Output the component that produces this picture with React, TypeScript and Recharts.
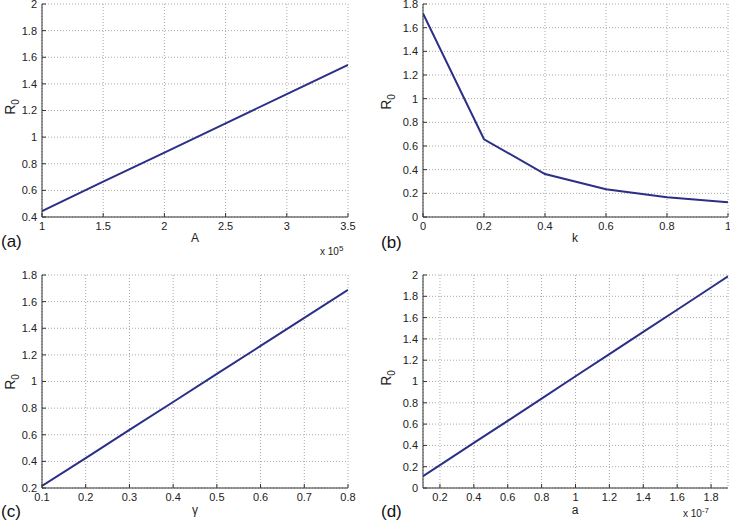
import { CartesianGrid, Line, LineChart, XAxis, YAxis } from 'recharts';

// panel (a): R0 vs A (x 10^5)
const aX = [1, 1.5, 2, 2.5, 3, 3.5];
const aR0 = [0.445, 0.665, 0.884, 1.104, 1.323, 1.543];
const aXTicks = [1, 1.5, 2, 2.5, 3, 3.5];
const aYTicks = [0.4, 0.6, 0.8, 1, 1.2, 1.4, 1.6, 1.8, 2];

// panel (b): R0 vs k
const bX = [0, 0.2, 0.4, 0.6, 0.8, 1];
const bR0 = [1.72, 0.657, 0.363, 0.234, 0.166, 0.124];
const bXTicks = [0, 0.2, 0.4, 0.6, 0.8, 1];
const bYTicks = [0, 0.2, 0.4, 0.6, 0.8, 1, 1.2, 1.4, 1.6, 1.8];

// panel (c): R0 vs gamma
const cX = [0.1, 0.2, 0.3, 0.4, 0.5, 0.6, 0.7, 0.8];
const cR0 = [0.215, 0.425, 0.636, 0.846, 1.057, 1.267, 1.478, 1.688];
const cXTicks = [0.1, 0.2, 0.3, 0.4, 0.5, 0.6, 0.7, 0.8];
const cYTicks = [0.2, 0.4, 0.6, 0.8, 1, 1.2, 1.4, 1.6, 1.8];

// panel (d): R0 vs a (x 10^-7)
const dX = [0.1, 0.2, 0.4, 0.6, 0.8, 1, 1.2, 1.4, 1.6, 1.8, 1.9];
const dR0 = [0.11, 0.214, 0.423, 0.631, 0.84, 1.049, 1.257, 1.466, 1.674, 1.883, 1.987];
const dXTicks = [0.2, 0.4, 0.6, 0.8, 1, 1.2, 1.4, 1.6, 1.8];
const dYTicks = [0, 0.2, 0.4, 0.6, 0.8, 1, 1.2, 1.4, 1.6, 1.8, 2];

const FONT = '"Liberation Sans", Arial, Helvetica, sans-serif';
const LINE = '#2b2f86';
const AXIS = '#333';

const toRows = (xs: number[], ys: number[]) => xs.map((x, i) => ({ x, r0: ys[i] }));

type PanelProps = {
    left: number;
    top: number;
    width: number;
    height: number;
    plot: { l: number; t: number; r: number; b: number };
    xs: number[];
    ys: number[];
    xTicks: number[];
    yTicks: number[];
    xDomain: [number, number];
    yDomain: [number, number];
    xLabel: string;
    xLabelPos: [number, number];
    yLabelPos: [number, number];
    tag: string;
    tagPos: [number, number];
    exp?: string;
    expPos?: [number, number];
};

const fmt = (v: number) => String(Number(v.toFixed(2)));
const tickStyle = { fontSize: 11, fill: '#222', fontFamily: FONT };
const noLabel = () => <g />;

const Panel = (p: PanelProps) => {
    const data = toRows(p.xs, p.ys);
    return (
        <div style={{ position: 'absolute', left: p.left, top: p.top, width: p.width, height: p.height }}>
            <LineChart
                width={p.width}
                height={p.height}
                data={data}
                margin={{ top: p.plot.t, right: p.width - p.plot.r, left: 0, bottom: 0 }}
                style={{ overflow: 'visible' }}
            >
                <CartesianGrid xAxisId="b" yAxisId="l" stroke="#a8a8a8" strokeDasharray="1 2" />
                <XAxis
                    xAxisId="b"
                    type="number"
                    dataKey="x"
                    domain={p.xDomain}
                    ticks={p.xTicks}
                    allowDataOverflow
                    height={p.height - p.plot.b}
                    tickSize={-4}
                    tickMargin={9}
                    tickFormatter={fmt}
                    tick={tickStyle}
                    stroke={AXIS}
                    interval={0}
                />
                <XAxis
                    xAxisId="t"
                    orientation="top"
                    type="number"
                    dataKey="x"
                    domain={p.xDomain}
                    ticks={p.xTicks}
                    allowDataOverflow
                    height={0}
                    tickSize={-4}
                    tick={noLabel}
                    stroke={AXIS}
                    interval={0}
                />
                <YAxis
                    yAxisId="l"
                    type="number"
                    domain={p.yDomain}
                    ticks={p.yTicks}
                    allowDataOverflow
                    width={p.plot.l}
                    tickSize={-4}
                    tickMargin={9}
                    tickFormatter={fmt}
                    tick={tickStyle}
                    stroke={AXIS}
                    interval={0}
                />
                <YAxis
                    yAxisId="r"
                    orientation="right"
                    type="number"
                    domain={p.yDomain}
                    ticks={p.yTicks}
                    allowDataOverflow
                    width={0}
                    tickSize={-4}
                    tick={noLabel}
                    stroke={AXIS}
                    interval={0}
                />
                <Line
                    xAxisId="b"
                    yAxisId="l"
                    type="linear"
                    dataKey="r0"
                    stroke={LINE}
                    strokeWidth={2}
                    dot={false}
                    isAnimationActive={false}
                />
            </LineChart>
            <div style={{ position: 'absolute', left: p.xLabelPos[0], top: p.xLabelPos[1], fontFamily: FONT, fontSize: 12, color: '#222', transform: 'translate(-50%, -50%)', lineHeight: 1 }}>
                {p.xLabel}
            </div>
            <div style={{ position: 'absolute', left: p.yLabelPos[0], top: p.yLabelPos[1], fontFamily: FONT, fontSize: 14, color: '#222', transform: 'translate(-50%, -50%) rotate(-90deg)', lineHeight: 1, whiteSpace: 'nowrap' }}>
                R<sub style={{ fontSize: 10 }}>0</sub>
            </div>
            <div style={{ position: 'absolute', left: p.tagPos[0], top: p.tagPos[1], fontFamily: FONT, fontSize: 17, color: '#111', transform: 'translateY(-50%)', lineHeight: 1 }}>
                {p.tag}
            </div>
            {p.exp && p.expPos && (
                <div style={{ position: 'absolute', left: p.expPos[0], top: p.expPos[1], fontFamily: FONT, fontSize: 10, color: '#222', transform: 'translateY(-50%)', lineHeight: 1, whiteSpace: 'nowrap' }}>
                    x 10<sup style={{ fontSize: 8 }}>{p.exp}</sup>
                </div>
            )}
        </div>
    );
};

export default function App() {
    return (
        <div style={{ position: 'absolute', left: 0, top: 0, width: 730, height: 521, background: '#fff', overflow: 'hidden' }}>
            <Panel
                left={0} top={0} width={365} height={260}
                plot={{ l: 42, t: 4, r: 348, b: 217 }}
                xs={aX} ys={aR0} xTicks={aXTicks} yTicks={aYTicks}
                xDomain={[1, 3.5]} yDomain={[0.4, 2]}
                xLabel="A" xLabelPos={[195, 238]} yLabelPos={[12, 107]}
                tag="(a)" tagPos={[1, 241]}
                exp="5" expPos={[320, 251]}
            />
            <Panel
                left={365} top={0} width={365} height={260}
                plot={{ l: 58, t: 4, r: 363, b: 217 }}
                xs={bX} ys={bR0} xTicks={bXTicks} yTicks={bYTicks}
                xDomain={[0, 1]} yDomain={[0, 1.8]}
                xLabel="k" xLabelPos={[210, 238]} yLabelPos={[23, 102]}
                tag="(b)" tagPos={[16, 242]}
            />
            <Panel
                left={0} top={260} width={365} height={261}
                plot={{ l: 42, t: 15, r: 348, b: 228 }}
                xs={cX} ys={cR0} xTicks={cXTicks} yTicks={cYTicks}
                xDomain={[0.1, 0.8]} yDomain={[0.2, 1.8]}
                xLabel="γ" xLabelPos={[195, 250]} yLabelPos={[12, 122]}
                tag="(c)" tagPos={[1, 251]}
            />
            <Panel
                left={365} top={260} width={365} height={261}
                plot={{ l: 58, t: 15, r: 363, b: 228 }}
                xs={dX} ys={dR0} xTicks={dXTicks} yTicks={dYTicks}
                xDomain={[0.1, 1.9]} yDomain={[0, 2]}
                xLabel="a" xLabelPos={[210, 250]} yLabelPos={[23, 118]}
                tag="(d)" tagPos={[16, 251]}
                exp="-7" expPos={[318, 253]}
            />
        </div>
    );
}
